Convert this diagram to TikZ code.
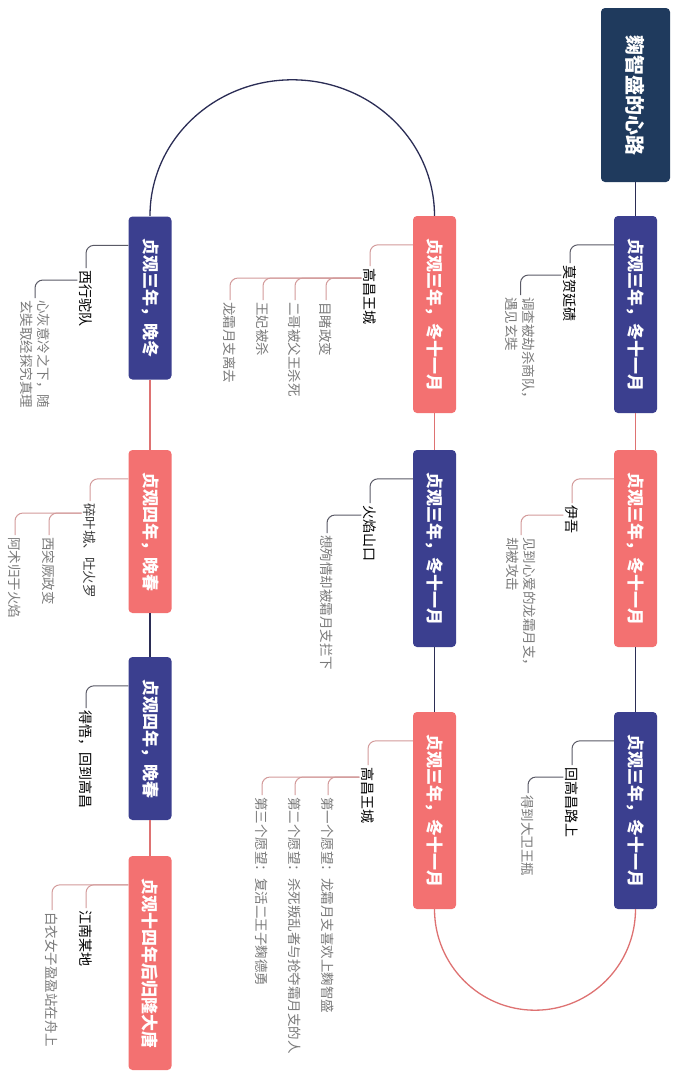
\documentclass[tikz,border=0pt]{standalone}
\usepackage{fontspec}
\setmainfont{Noto Sans CJK SC}
\usepackage{tikz}
\definecolor{xlnavy}{HTML}{1F3A5D}
\definecolor{xlblue}{HTML}{3B3F8F}
\definecolor{xlred}{HTML}{F37171}
\definecolor{xlnavyline}{HTML}{2B2D55}
\definecolor{xlredline}{HTML}{DE7272}
\definecolor{xlgrayline}{HTML}{5A5A66}
\definecolor{xlpinkline}{HTML}{D39B9B}
\definecolor{xlgray}{HTML}{7A7A7A}

\begin{document}
\begin{tikzpicture}[x=1pt, y=-1pt,
  head/.style={rotate=-90, fill=xlnavy, text=white, rounded corners=4pt, minimum width=174pt, minimum height=69pt, font=\fontsize{20}{24}\selectfont\bfseries},
  box/.style={rotate=-90, text=white, rounded corners=4pt, minimum height=43pt, inner xsep=22pt, inner ysep=0pt, font=\fontsize{17}{20}\selectfont\bfseries},
  bluebox/.style={box, fill=xlblue},
  redbox/.style={box, fill=xlred},
  kid/.style={rotate=-90, anchor=west, inner sep=2pt, text=black, font=\fontsize{14}{17}\selectfont},
  leaf/.style={rotate=-90, anchor=west, inner sep=2pt, align=left, text=xlgray, font=\fontsize{13.5}{17}\selectfont},
  navylink/.style={xlnavyline, line width=1.3pt},
  redlink/.style={xlredline, line width=1.3pt},
  bluefork/.style={xlgrayline, line width=1pt, rounded corners=8pt},
  redfork/.style={xlpinkline, line width=1pt, rounded corners=8pt}
]
  \fill[white] (0,0) rectangle (675,1080);
  \useasboundingbox (0,0) rectangle (675,1080);

  % main line
  \node[head] (title) at (635.5,95) {麴智盛的心路};
  \node[bluebox] (a1) at (635.5,314.5) {贞观三年，冬十一月};
  \node[redbox] (a2) at (635.5,548.5) {贞观三年，冬十一月};
  \node[bluebox] (a3) at (635.5,810.5) {贞观三年，冬十一月};
  \node[redbox] (b1) at (434.5,314.5) {贞观三年，冬十一月};
  \node[bluebox] (b2) at (434.5,548.5) {贞观三年，冬十一月};
  \node[redbox] (b3) at (434.5,810.5) {贞观三年，冬十一月};
  \node[bluebox] (c1) at (150,298) {贞观三年，晚冬};
  \node[redbox] (c2) at (150,531.5) {贞观四年，晚春};
  \node[bluebox] (c3) at (150,738.5) {贞观四年，晚春};
  \node[redbox] (c4) at (150,963) {贞观十四年后归隆大唐};

  \draw[navylink] (title.east) -- (a1.west);
  \draw[redlink] (a1.east) -- (a2.west);
  \draw[navylink] (a2.east) -- (a3.west);
  \draw[redlink] (a3.east) arc[start angle=0, end angle=-180, x radius=100.5pt, y radius=101pt];
  \draw[navylink] (b3.west) -- (b2.east);
  \draw[redlink] (b2.west) -- (b1.east);
  \draw[navylink] (b1.west) arc[start angle=0, end angle=180, x radius=142.25pt, y radius=136pt];
  \draw[redlink] (c1.east) -- (c2.west);
  \draw[navylink] (c2.east) -- (c3.west);
  \draw[redlink] (c3.east) -- (c4.west);

  % places
  \node[kid] (a1c) at (570,263) {莫贺延碛};
  \node[kid] (a2c) at (572,503) {伊吾};
  \node[kid] (a3c) at (572,765) {回高昌路上};
  \node[kid] (b1c) at (370,266) {高昌王城};
  \node[kid] (b2c) at (370,503) {火焰山口};
  \node[kid] (b3c) at (368,765) {高昌王城};
  \node[kid] (c1c) at (86,268) {西行驼队};
  \node[leaf, text=black!75] (c2c) at (90,501) {碎叶城、吐火罗};
  \node[kid] (c3c) at (86,708) {得悟，回到高昌};
  \node[kid] (c4c1) at (86,908) {江南某地};
  \node[leaf] (c4c2) at (52,910) {白衣女子盈盈站在舟上};

  \draw[bluefork] (a1.south west) ++(0,29) -| (a1c.west);
  \draw[redfork] (a2.south west) ++(0,29) -| (a2c.west);
  \draw[bluefork] (a3.south west) ++(0,29) -| (a3c.west);
  \draw[redfork] (b1.south west) ++(0,29) -| (b1c.west);
  \draw[bluefork] (b2.south west) ++(0,29) -| (b2c.west);
  \draw[redfork] (b3.south west) ++(0,29) -| (b3c.west);
  \draw[bluefork] (c1.south west) ++(0,29) -| (c1c.west);
  \draw[redfork] (c2.south west) ++(0,29) -| (c2c.west);
  \draw[bluefork] (c3.south west) ++(0,29) -| (c3c.west);
  \draw[redfork] (c4.south west) ++(0,29) -| (c4c1.west);
  \draw[redfork] (c4.south west) ++(0,29) -| (c4c2.west);

  % what happened there
  \node[leaf] (a1g) at (520.5,295) {调查被劫杀商队，\\遇见玄奘};
  \node[leaf] (a2g) at (521,535) {见到心爱的龙霜月支，\\却被攻击};
  \node[leaf] (a3g) at (528,793) {得到大卫王瓶};
  \node[leaf] (b1g1) at (326,300) {目睹政变};
  \node[leaf] (b1g2) at (295,300) {二哥被父王杀死};
  \node[leaf] (b1g3) at (263,300) {王妃被杀};
  \node[leaf] (b1g4) at (230,300) {龙霜月支离去};
  \node[leaf] (b2g) at (327,533) {想殉情却被霜月支拦下};
  \node[leaf] (b3g1) at (328,795) {第一个愿望：龙霜月支喜欢上麴智盛};
  \node[leaf] (b3g2) at (295,795) {第二个愿望：杀死叛乱者与抢夺霜月支的人};
  \node[leaf] (b3g3) at (262,795) {第三个愿望：复活二王子麴德勇};
  \node[leaf] (c1g) at (35,298) {心灰意冷之下，随\\玄奘取经探究真理};
  \node[leaf] (c2g1) at (49,535) {西突厥政变};
  \node[leaf] (c2g2) at (15,535) {阿术归于火焰};

  \draw[bluefork] (a1c.south west) ++(0,12) -| (a1g.west);
  \draw[redfork] (a2c.south west) ++(0,12) -| (a2g.west);
  \draw[bluefork] (a3c.south west) ++(0,12) -| (a3g.west);
  \foreach \g in {b1g1,b1g2,b1g3,b1g4}
    \draw[redfork] (b1c.south west) ++(0,12) -| (\g.west);
  \draw[bluefork] (b2c.south west) ++(0,12) -| (b2g.west);
  \foreach \g in {b3g1,b3g2,b3g3}
    \draw[redfork] (b3c.south west) ++(0,12) -| (\g.west);
  \draw[bluefork] (c1c.south west) ++(0,12) -| (c1g.west);
  \foreach \g in {c2g1,c2g2}
    \draw[redfork] (c2c.south west) ++(0,12) -| (\g.west);
\end{tikzpicture}
\end{document}
